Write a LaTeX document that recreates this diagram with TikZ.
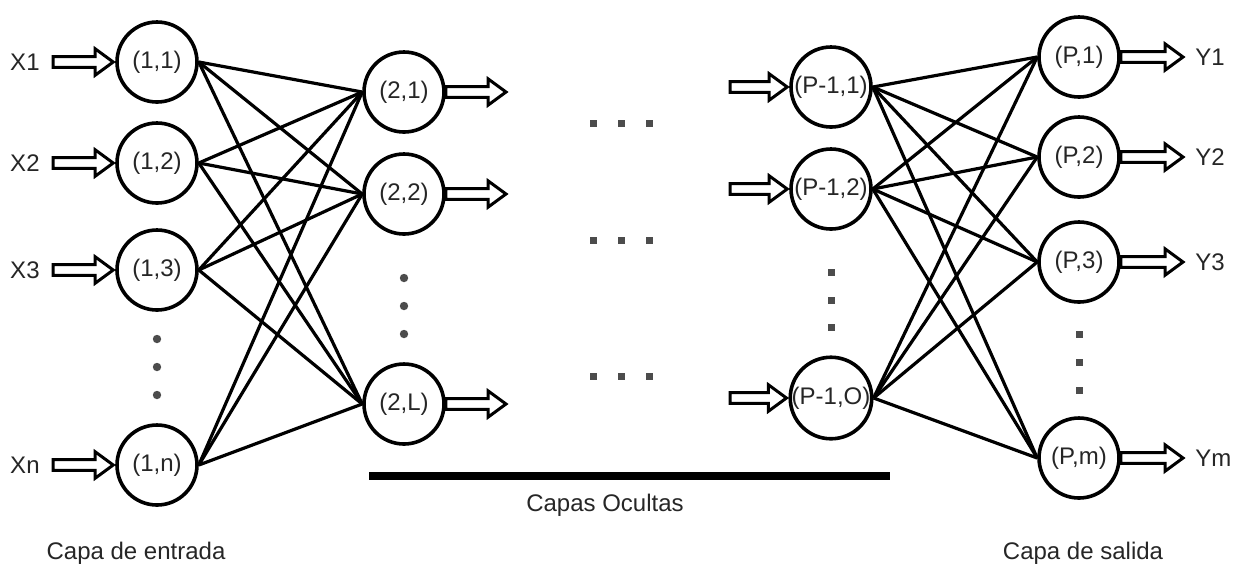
\documentclass[tikz,border=0pt]{standalone}
\usepackage{fontspec}
\setmainfont{Liberation Sans}
\usetikzlibrary{calc}

\begin{document}
\begin{tikzpicture}[x=0.5pt, y=-0.5pt,
                    font=\fontsize{12}{14}\selectfont,
                    neuron/.style={circle, draw, line width=1.8pt, minimum size=40pt, inner sep=0pt, text=black!85},
                    link/.style={line width=1.6pt},
                    fatarrow/.style={line width=1.5pt, line join=miter, to path={
                      let \p1=(\tikztostart), \p2=(\tikztotarget) in
                      (\x1,\y1+2.7pt) -- (\x2-10pt,\y1+2.7pt) -- (\x2-10pt,\y1+6.6pt) -- (\x2-1pt,\y1)
                      -- (\x2-10pt,\y1-6.6pt) -- (\x2-10pt,\y1-2.7pt) -- (\x1,\y1-2.7pt) -- cycle}},
                    inlabel/.style={anchor=east, inner xsep=6.5pt, text=black!85},
                    outlabel/.style={anchor=west, inner xsep=5pt, text=black!85},
                    caption/.style={text=black!85}]
  \useasboundingbox (0,0) rectangle (1241,570);

  % input layer
  \node[neuron] (n11) at (157,62) {(1,1)};
  \node[neuron] (n12) at (157,163) {(1,2)};
  \node[neuron] (n13) at (157,270) {(1,3)};
  \node[neuron] (n1n) at (157,465) {(1,n)};
  % second layer
  \node[neuron] (n21) at (404,92) {(2,1)};
  \node[neuron] (n22) at (404,194) {(2,2)};
  \node[neuron] (n2L) at (404,404) {(2,L)};
  % last hidden layer
  \node[neuron] (m1) at (831,87) {(P-1,1)};
  \node[neuron] (m2) at (831,189) {(P-1,2)};
  \node[neuron] (mO) at (831,398) {(P-1,O)};
  % output layer
  \node[neuron] (p1) at (1079,57) {(P,1)};
  \node[neuron] (p2) at (1079,157) {(P,2)};
  \node[neuron] (p3) at (1079,262) {(P,3)};
  \node[neuron] (pm) at (1079,458) {(P,m)};

  % weights
  \foreach \a in {n11,n12,n13,n1n}
    \foreach \b in {n21,n22,n2L}
      \draw[link] (\a.east) -- (\b.west);
  \foreach \a in {m1,m2,mO}
    \foreach \b in {p1,p2,p3,pm}
      \draw[link] (\a.east) -- (\b.west);

  % inputs
  \node[inlabel] (x1) at (53,62) {X1};
  \node[inlabel] (x2) at (53,163) {X2};
  \node[inlabel] (x3) at (53,270) {X3};
  \node[inlabel] (xn) at (53,465) {Xn};
  \draw[fatarrow] (x1.east) to (n11.west);
  \draw[fatarrow] (x2.east) to (n12.west);
  \draw[fatarrow] (x3.east) to (n13.west);
  \draw[fatarrow] (xn.east) to (n1n.west);

  % signals between hidden layers
  \coordinate (o1) at (508,92);
  \coordinate (o2) at (508,194);
  \coordinate (oL) at (508,404);
  \draw[fatarrow] (n21.east) to (o1);
  \draw[fatarrow] (n22.east) to (o2);
  \draw[fatarrow] (n2L.east) to (oL);
  \coordinate (i1) at (730,87);
  \coordinate (i2) at (730,189);
  \coordinate (iO) at (730,398);
  \draw[fatarrow] (i1) to (m1.west);
  \draw[fatarrow] (i2) to (m2.west);
  \draw[fatarrow] (iO) to (mO.west);

  % outputs
  \node[outlabel] (y1) at (1185,57) {Y1};
  \node[outlabel] (y2) at (1185,157) {Y2};
  \node[outlabel] (y3) at (1185,262) {Y3};
  \node[outlabel] (ym) at (1185,458) {Ym};
  \draw[fatarrow] (p1.east) to (y1.west);
  \draw[fatarrow] (p2.east) to (y2.west);
  \draw[fatarrow] (p3.east) to (y3.west);
  \draw[fatarrow] (pm.east) to (ym.west);

  % ellipsis dots
  \foreach \y in {339,367,395} \fill[black!70] (157,\y) circle (2.1pt);
  \foreach \y in {278,306,334} \fill[black!70] (404,\y) circle (2.1pt);
  \foreach \y in {272,300,327} \fill[black!70] (831,\y) ++(-1.75pt,-1.75pt) rectangle ++(3.5pt,3.5pt);
  \foreach \y in {334,362,390} \fill[black!70] (1079,\y) ++(-1.75pt,-1.75pt) rectangle ++(3.5pt,3.5pt);
  \foreach \y in {123,240,376}
    \foreach \x in {593,621,649}
      \fill[black!70] (\x,\y) ++(-1.75pt,-1.75pt) rectangle ++(3.5pt,3.5pt);

  % hidden layers bracket
  \draw[line width=4pt] (369,476) -- (890,476);
  \node[caption] (hidden) at (605,505) {Capas Ocultas};
  \node[caption] (inlayer) at (136,553) {Capa de entrada};
  \node[caption] (outlayer) at (1083,553) {Capa de salida};
\end{tikzpicture}
\end{document}
